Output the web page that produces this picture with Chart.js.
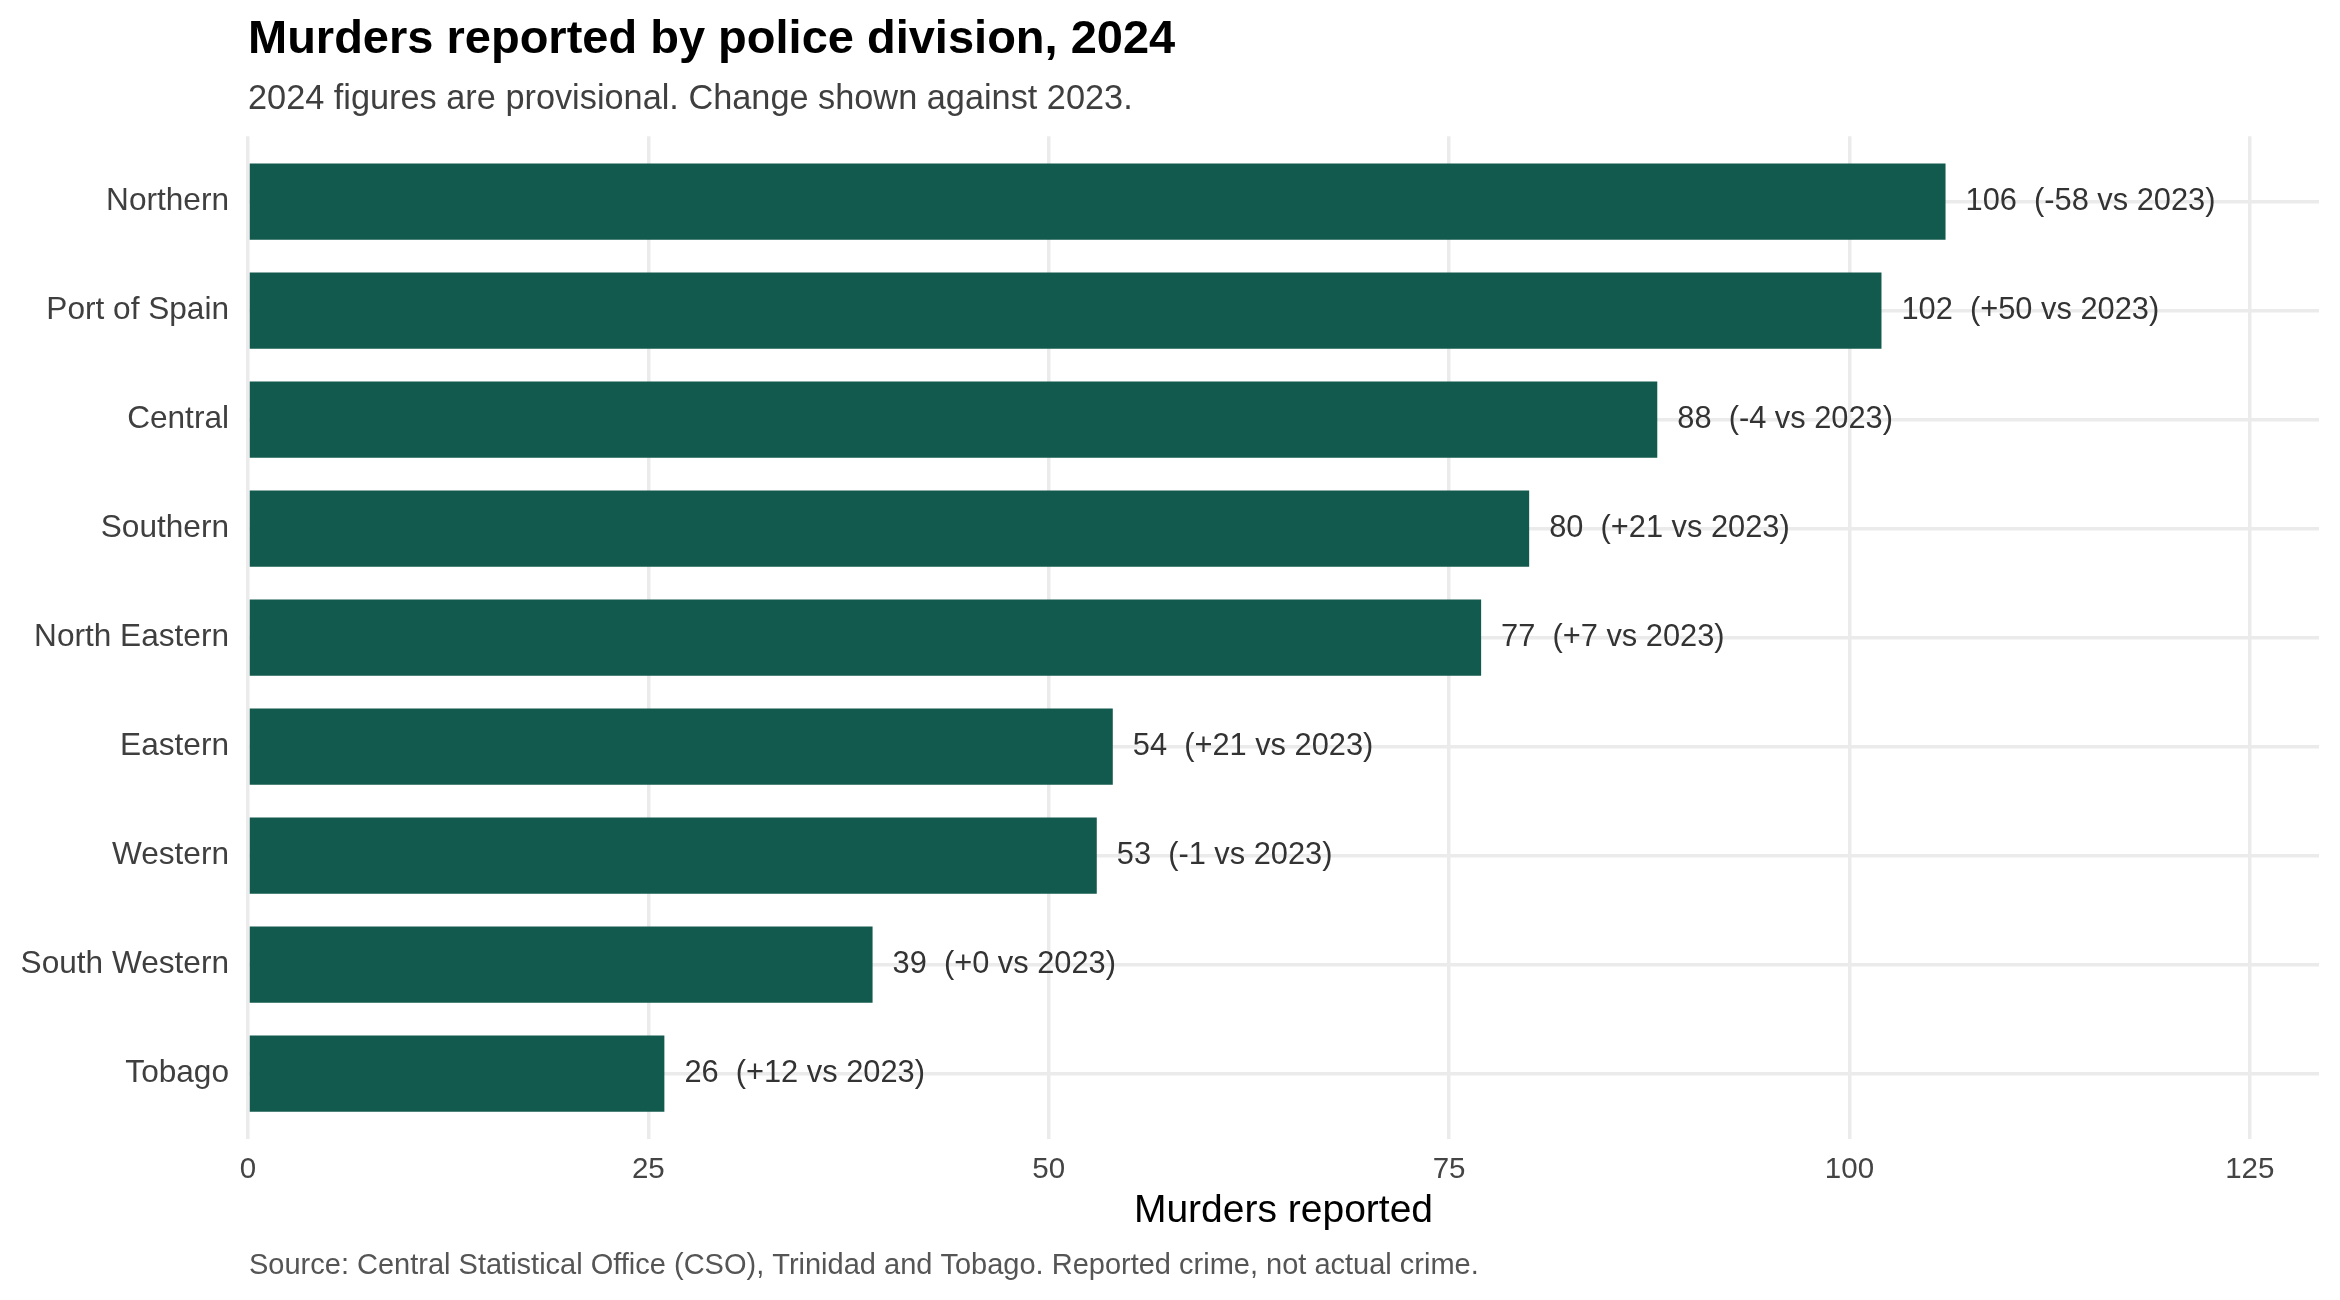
<!DOCTYPE html>
<html>
<head>
<meta charset="utf-8">
<script src="https://cdn.jsdelivr.net/npm/chart.js@4.4.1/dist/chart.umd.min.js"></script>
<style>
  html, body { margin: 0; padding: 0; background: #ffffff; }
  #wrap { width: 2340px; height: 1300px; }
</style>
</head>
<body>
<div id="wrap"><canvas id="c" width="2340" height="1300"></canvas></div>
<script>
// ---- data ----
const categories = ["Northern", "Port of Spain", "Central", "Southern", "North Eastern", "Eastern", "Western", "South Western", "Tobago"];
const murders2024 = [106, 102, 88, 80, 77, 54, 53, 39, 26];
const changeVs2023 = [-58, 50, -4, 21, 7, 21, -1, 0, 12];
const xTickValues = [0, 25, 50, 75, 100, 125];

const titleText = "Murders reported by police division, 2024";
const subtitleText = "2024 figures are provisional. Change shown against 2023.";
const captionText = "Source: Central Statistical Office (CSO), Trinidad and Tobago. Reported crime, not actual crime.";
const xAxisTitle = "Murders reported";

const FONT = "'Liberation Sans', Arial, Helvetica, sans-serif";
const BAR_COLOR = "#125a4d";
const GRID_COLOR = "#ebebeb";

const xMax = Math.max(...murders2024) * 1.22;

function labelFor(i) {
  const d = changeVs2023[i];
  const s = d >= 0 ? "+" + d : String(d);
  return murders2024[i] + "  (" + s + " vs 2023)";
}

const barLabels = {
  id: "barLabels",
  afterDatasetsDraw(chart) {
    const ctx = chart.ctx;
    const meta = chart.getDatasetMeta(0);
    ctx.save();
    ctx.font = "30.8px " + FONT;
    ctx.fillStyle = "#333333";
    ctx.textAlign = "left";
    ctx.textBaseline = "middle";
    meta.data.forEach((bar, i) => {
      ctx.fillText(labelFor(i), bar.x + 20, bar.y);
    });
    ctx.restore();
  }
};

const caption = {
  id: "caption",
  afterDraw(chart) {
    const ctx = chart.ctx;
    ctx.save();
    ctx.font = "29px " + FONT;
    ctx.fillStyle = "#555555";
    ctx.textAlign = "left";
    ctx.textBaseline = "alphabetic";
    ctx.fillText(captionText, chart.chartArea.left + 1, 1274);
    ctx.restore();
  }
};

new Chart(document.getElementById("c"), {
  type: "bar",
  data: {
    datasets: [{
      data: murders2024.map((v, i) => ({ x: v, y: i })),
      backgroundColor: BAR_COLOR,
      borderWidth: 0,
      barPercentage: 0.7,
      categoryPercentage: 1.0
    }]
  },
  options: {
    indexAxis: "y",
    responsive: false,
    devicePixelRatio: 1,
    animation: false,
    layout: { padding: { left: 0, right: 21, top: 0, bottom: 69 } },
    plugins: {
      legend: { display: false },
      tooltip: { enabled: false },
      title: {
        display: true,
        text: titleText,
        align: "start",
        fullSize: false,
        color: "#000000",
        font: { family: FONT, size: 47, weight: "bold", lineHeight: 1.2 },
        padding: { top: 11.5, bottom: 0 }
      },
      subtitle: {
        display: true,
        text: subtitleText,
        align: "start",
        fullSize: false,
        color: "#3f3f3f",
        font: { family: FONT, size: 34.3, weight: "normal", lineHeight: 1.2 },
        padding: { top: 10.6, bottom: 16.5 }
      }
    },
    scales: {
      x: {
        type: "linear",
        position: "bottom",
        min: 0,
        max: xMax,
        afterBuildTicks(scale) { scale.ticks = xTickValues.map(v => ({ value: v })); },
        afterFit(scale) { scale.height = 92; },
        grid: { color: GRID_COLOR, lineWidth: 3.5, drawTicks: false },
        border: { display: false },
        ticks: {
          color: "#444444",
          padding: 16.25,
          font: { family: FONT, size: 29.5, lineHeight: 1.0 },
          callback: (v) => String(v)
        },
        title: {
          display: true,
          text: xAxisTitle,
          color: "#000000",
          font: { family: FONT, size: 39, lineHeight: 1.0 },
          padding: { top: 0, bottom: 0 }
        }
      },
      y: {
        type: "linear",
        position: "left",
        reverse: true,
        min: -0.6,
        max: categories.length - 1 + 0.6,
        offset: false,
        afterBuildTicks(scale) { scale.ticks = categories.map((c, i) => ({ value: i })); },
        afterFit(scale) { scale.width = 248; },
        grid: { color: GRID_COLOR, lineWidth: 3.5, drawTicks: false, offset: false },
        border: { display: false },
        ticks: {
          color: "#3f3f3f",
          padding: 19,
          autoSkip: false,
          font: { family: FONT, size: 31.6, lineHeight: 1.2 },
          callback: (v) => categories[v]
        }
      }
    }
  },
  plugins: [barLabels, caption]
});
</script>
</body>
</html>
